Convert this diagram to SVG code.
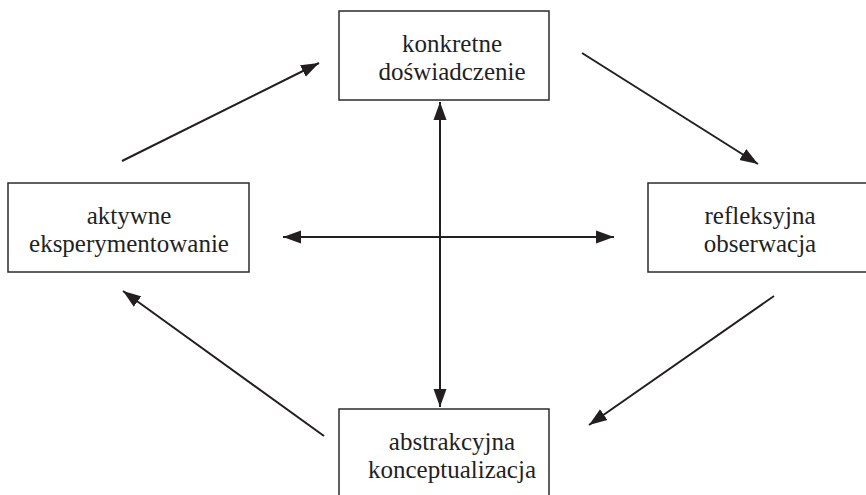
<svg xmlns="http://www.w3.org/2000/svg" width="866" height="495" viewBox="0 0 866 495">
<style>
.box{fill:#fff;stroke:#2b2b2b;stroke-width:1.5}
.lbl{font-family:"Liberation Serif","Times New Roman",serif;font-size:25px;fill:#231f20;text-anchor:middle}
.arr{stroke:#231f20;stroke-width:2;fill:none}
</style>
<defs>
<marker id="ah" markerUnits="userSpaceOnUse" markerWidth="20" markerHeight="14" refX="18" refY="6.5" orient="auto-start-reverse" viewBox="0 0 20 13">
<path d="M0,0 L18,6.5 L0,13 z" fill="#231f20"/>
</marker>
</defs>
<rect width="866" height="495" fill="#fff"/>
<g id="konkretne">
<rect class="box" x="339" y="11" width="210" height="89"/>
<text class="lbl" x="452" y="52">konkretne</text>
<text class="lbl" x="452" y="80">doświadczenie</text>
</g>
<g id="aktywne">
<rect class="box" x="8" y="183" width="241" height="89"/>
<text class="lbl" x="129" y="224">aktywne</text>
<text class="lbl" x="129" y="252">eksperymentowanie</text>
</g>
<g id="refleksyjna">
<rect class="box" x="648" y="183" width="230" height="89"/>
<text class="lbl" x="760" y="224">refleksyjna</text>
<text class="lbl" x="760" y="252">obserwacja</text>
</g>
<g id="abstrakcyjna">
<rect class="box" x="339" y="409" width="210" height="100"/>
<text class="lbl" x="452" y="450">abstrakcyjna</text>
<text class="lbl" x="452" y="478">konceptualizacja</text>
</g>
<g id="connectors">
<line class="arr" x1="122" y1="161" x2="319" y2="63" marker-end="url(#ah)"/>
<line class="arr" x1="582" y1="53" x2="758" y2="164" marker-end="url(#ah)"/>
<line class="arr" x1="774" y1="296" x2="589" y2="425" marker-end="url(#ah)"/>
<line class="arr" x1="324" y1="436" x2="123" y2="291" marker-end="url(#ah)"/>
<line class="arr" x1="440" y1="102" x2="440" y2="407" marker-start="url(#ah)" marker-end="url(#ah)"/>
<line class="arr" x1="283" y1="237" x2="614" y2="237" marker-start="url(#ah)" marker-end="url(#ah)"/>
</g>
</svg>
